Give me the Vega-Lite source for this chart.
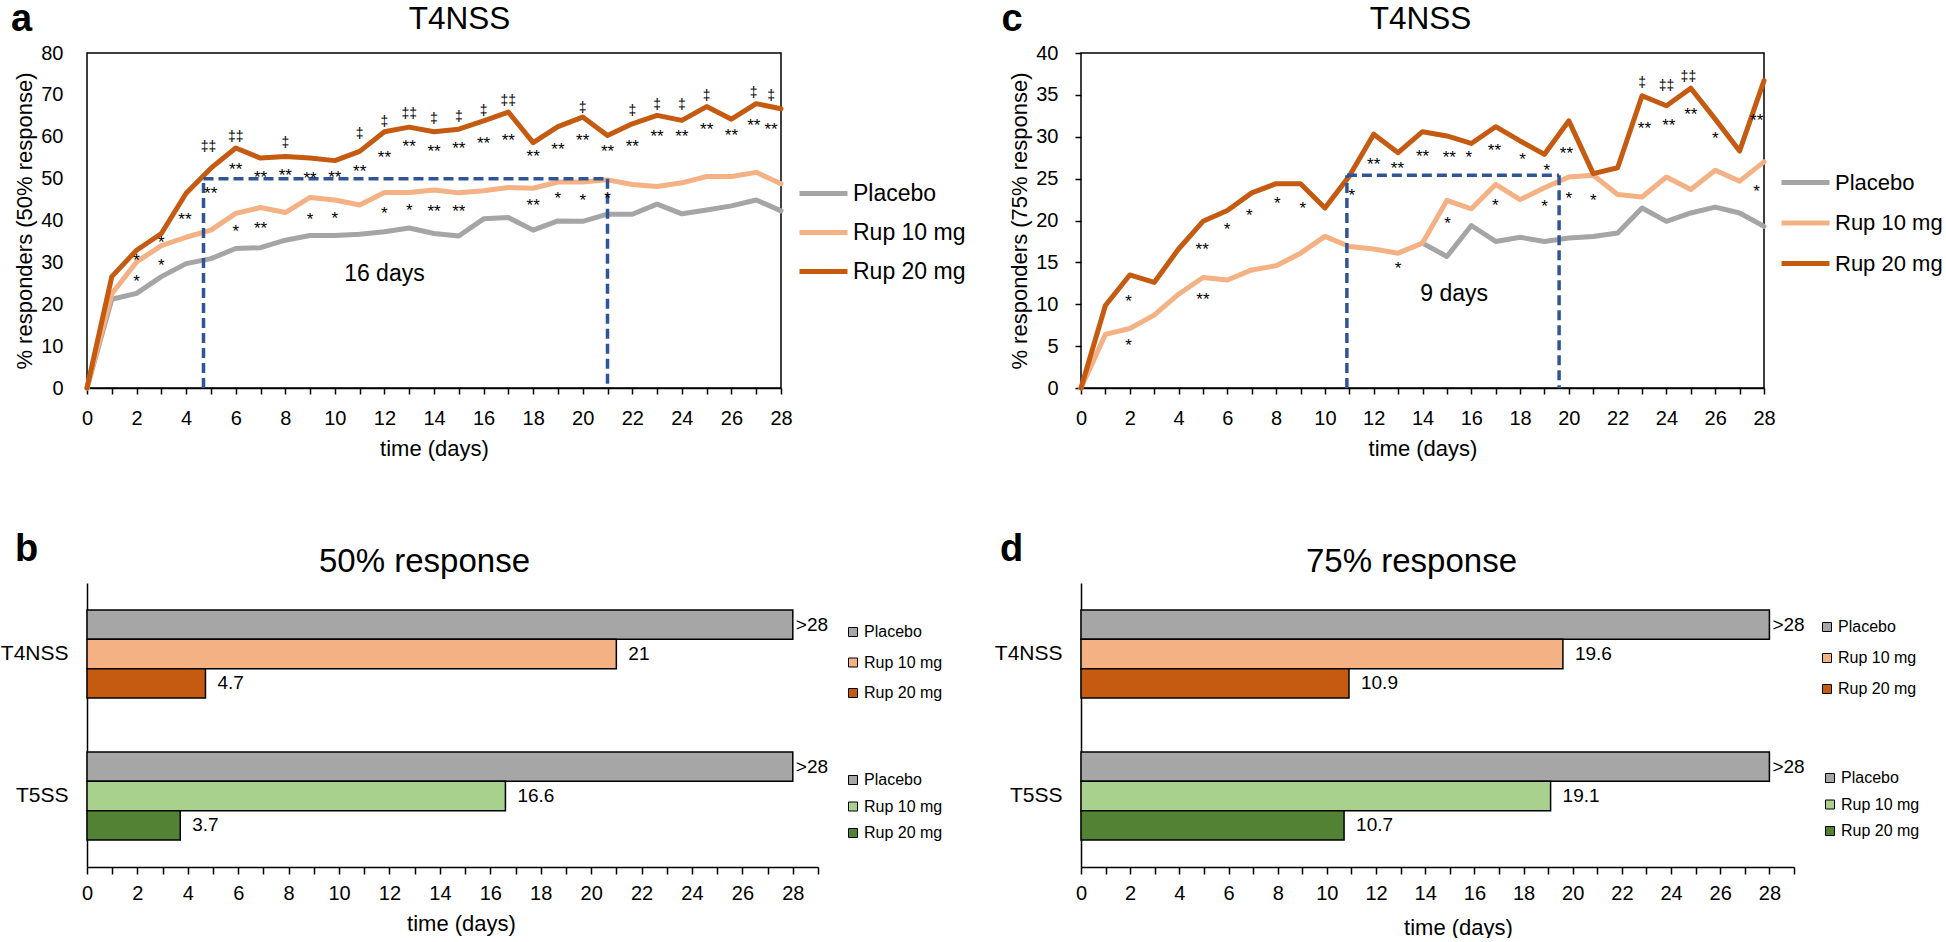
{
  "$schema": "https://vega.github.io/schema/vega-lite/v6.json",
  "padding": {"left": 0, "top": 0, "right": 0, "bottom": 0},
  "config": {
    "font": "Liberation Sans",
    "view": {"stroke": null},
    "axis": {"grid": false, "domainColor": "black", "tickColor": "black", "labelColor": "black", "titleColor": "black", "titleFontWeight": "normal", "domainWidth": 1.5, "tickWidth": 1.5, "labelFont": "Liberation Sans", "titleFont": "Liberation Sans"},
    "legend": {"labelColor": "black", "labelFont": "Liberation Sans"},
    "title": {"color": "black", "font": "Liberation Sans"}
  },
  "datasets": {
    "lines_a": [
      {"day":0,"group":"Placebo","value":0},{"day":1,"group":"Placebo","value":21.2},{"day":2,"group":"Placebo","value":22.6},{"day":3,"group":"Placebo","value":26.6},{"day":4,"group":"Placebo","value":29.7},{"day":5,"group":"Placebo","value":30.9},{"day":6,"group":"Placebo","value":33.3},{"day":7,"group":"Placebo","value":33.5},{"day":8,"group":"Placebo","value":35.3},{"day":9,"group":"Placebo","value":36.4},{"day":10,"group":"Placebo","value":36.4},{"day":11,"group":"Placebo","value":36.7},{"day":12,"group":"Placebo","value":37.3},{"day":13,"group":"Placebo","value":38.2},{"day":14,"group":"Placebo","value":36.9},{"day":15,"group":"Placebo","value":36.3},{"day":16,"group":"Placebo","value":40.4},{"day":17,"group":"Placebo","value":40.7},{"day":18,"group":"Placebo","value":37.7},{"day":19,"group":"Placebo","value":39.9},{"day":20,"group":"Placebo","value":39.8},{"day":21,"group":"Placebo","value":41.5},{"day":22,"group":"Placebo","value":41.5},{"day":23,"group":"Placebo","value":43.9},{"day":24,"group":"Placebo","value":41.6},{"day":25,"group":"Placebo","value":42.5},{"day":26,"group":"Placebo","value":43.5},{"day":27,"group":"Placebo","value":44.9},{"day":28,"group":"Placebo","value":42.3},
      {"day":0,"group":"Rup 10 mg","value":0},{"day":1,"group":"Rup 10 mg","value":22.5},{"day":2,"group":"Rup 10 mg","value":30.1},{"day":3,"group":"Rup 10 mg","value":34.0},{"day":4,"group":"Rup 10 mg","value":36.0},{"day":5,"group":"Rup 10 mg","value":37.7},{"day":6,"group":"Rup 10 mg","value":41.7},{"day":7,"group":"Rup 10 mg","value":43.1},{"day":8,"group":"Rup 10 mg","value":41.9},{"day":9,"group":"Rup 10 mg","value":45.5},{"day":10,"group":"Rup 10 mg","value":44.9},{"day":11,"group":"Rup 10 mg","value":43.7},{"day":12,"group":"Rup 10 mg","value":46.7},{"day":13,"group":"Rup 10 mg","value":46.7},{"day":14,"group":"Rup 10 mg","value":47.3},{"day":15,"group":"Rup 10 mg","value":46.6},{"day":16,"group":"Rup 10 mg","value":47.1},{"day":17,"group":"Rup 10 mg","value":47.9},{"day":18,"group":"Rup 10 mg","value":47.7},{"day":19,"group":"Rup 10 mg","value":49.2},{"day":20,"group":"Rup 10 mg","value":49.2},{"day":21,"group":"Rup 10 mg","value":49.7},{"day":22,"group":"Rup 10 mg","value":48.6},{"day":23,"group":"Rup 10 mg","value":48.1},{"day":24,"group":"Rup 10 mg","value":49.0},{"day":25,"group":"Rup 10 mg","value":50.5},{"day":26,"group":"Rup 10 mg","value":50.5},{"day":27,"group":"Rup 10 mg","value":51.5},{"day":28,"group":"Rup 10 mg","value":48.8},
      {"day":0,"group":"Rup 20 mg","value":0},{"day":1,"group":"Rup 20 mg","value":26.6},{"day":2,"group":"Rup 20 mg","value":32.9},{"day":3,"group":"Rup 20 mg","value":36.9},{"day":4,"group":"Rup 20 mg","value":46.5},{"day":5,"group":"Rup 20 mg","value":52.5},{"day":6,"group":"Rup 20 mg","value":57.3},{"day":7,"group":"Rup 20 mg","value":54.9},{"day":8,"group":"Rup 20 mg","value":55.3},{"day":9,"group":"Rup 20 mg","value":54.9},{"day":10,"group":"Rup 20 mg","value":54.3},{"day":11,"group":"Rup 20 mg","value":56.5},{"day":12,"group":"Rup 20 mg","value":61.2},{"day":13,"group":"Rup 20 mg","value":62.3},{"day":14,"group":"Rup 20 mg","value":61.2},{"day":15,"group":"Rup 20 mg","value":61.8},{"day":16,"group":"Rup 20 mg","value":63.8},{"day":17,"group":"Rup 20 mg","value":65.9},{"day":18,"group":"Rup 20 mg","value":58.6},{"day":19,"group":"Rup 20 mg","value":62.4},{"day":20,"group":"Rup 20 mg","value":64.7},{"day":21,"group":"Rup 20 mg","value":60.3},{"day":22,"group":"Rup 20 mg","value":63.1},{"day":23,"group":"Rup 20 mg","value":65.1},{"day":24,"group":"Rup 20 mg","value":63.9},{"day":25,"group":"Rup 20 mg","value":67.2},{"day":26,"group":"Rup 20 mg","value":64.2},{"day":27,"group":"Rup 20 mg","value":67.9},{"day":28,"group":"Rup 20 mg","value":66.7}
    ],
    "lines_c": [
      {"day":14,"group":"Placebo","value":17.3},{"day":15,"group":"Placebo","value":15.7},{"day":16,"group":"Placebo","value":19.4},{"day":17,"group":"Placebo","value":17.5},{"day":18,"group":"Placebo","value":18.0},{"day":19,"group":"Placebo","value":17.5},{"day":20,"group":"Placebo","value":17.9},{"day":21,"group":"Placebo","value":18.1},{"day":22,"group":"Placebo","value":18.5},{"day":23,"group":"Placebo","value":21.5},{"day":24,"group":"Placebo","value":19.9},{"day":25,"group":"Placebo","value":20.9},{"day":26,"group":"Placebo","value":21.6},{"day":27,"group":"Placebo","value":20.9},{"day":28,"group":"Placebo","value":19.3},
      {"day":0,"group":"Rup 10 mg","value":0},{"day":1,"group":"Rup 10 mg","value":6.4},{"day":2,"group":"Rup 10 mg","value":7.1},{"day":3,"group":"Rup 10 mg","value":8.7},{"day":4,"group":"Rup 10 mg","value":11.2},{"day":5,"group":"Rup 10 mg","value":13.2},{"day":6,"group":"Rup 10 mg","value":12.9},{"day":7,"group":"Rup 10 mg","value":14.1},{"day":8,"group":"Rup 10 mg","value":14.6},{"day":9,"group":"Rup 10 mg","value":16.1},{"day":10,"group":"Rup 10 mg","value":18.1},{"day":11,"group":"Rup 10 mg","value":16.9},{"day":12,"group":"Rup 10 mg","value":16.6},{"day":13,"group":"Rup 10 mg","value":16.1},{"day":14,"group":"Rup 10 mg","value":17.3},{"day":15,"group":"Rup 10 mg","value":22.4},{"day":16,"group":"Rup 10 mg","value":21.4},{"day":17,"group":"Rup 10 mg","value":24.3},{"day":18,"group":"Rup 10 mg","value":22.5},{"day":19,"group":"Rup 10 mg","value":23.9},{"day":20,"group":"Rup 10 mg","value":25.2},{"day":21,"group":"Rup 10 mg","value":25.4},{"day":22,"group":"Rup 10 mg","value":23.1},{"day":23,"group":"Rup 10 mg","value":22.8},{"day":24,"group":"Rup 10 mg","value":25.2},{"day":25,"group":"Rup 10 mg","value":23.7},{"day":26,"group":"Rup 10 mg","value":26.0},{"day":27,"group":"Rup 10 mg","value":24.7},{"day":28,"group":"Rup 10 mg","value":27.0},
      {"day":0,"group":"Rup 20 mg","value":0},{"day":1,"group":"Rup 20 mg","value":9.85},{"day":2,"group":"Rup 20 mg","value":13.5},{"day":3,"group":"Rup 20 mg","value":12.6},{"day":4,"group":"Rup 20 mg","value":16.6},{"day":5,"group":"Rup 20 mg","value":19.9},{"day":6,"group":"Rup 20 mg","value":21.2},{"day":7,"group":"Rup 20 mg","value":23.3},{"day":8,"group":"Rup 20 mg","value":24.4},{"day":9,"group":"Rup 20 mg","value":24.4},{"day":10,"group":"Rup 20 mg","value":21.5},{"day":11,"group":"Rup 20 mg","value":25.3},{"day":12,"group":"Rup 20 mg","value":30.3},{"day":13,"group":"Rup 20 mg","value":28.1},{"day":14,"group":"Rup 20 mg","value":30.6},{"day":15,"group":"Rup 20 mg","value":30.1},{"day":16,"group":"Rup 20 mg","value":29.2},{"day":17,"group":"Rup 20 mg","value":31.2},{"day":18,"group":"Rup 20 mg","value":29.5},{"day":19,"group":"Rup 20 mg","value":27.9},{"day":20,"group":"Rup 20 mg","value":31.9},{"day":21,"group":"Rup 20 mg","value":25.6},{"day":22,"group":"Rup 20 mg","value":26.3},{"day":23,"group":"Rup 20 mg","value":34.9},{"day":24,"group":"Rup 20 mg","value":33.7},{"day":25,"group":"Rup 20 mg","value":35.8},{"day":26,"group":"Rup 20 mg","value":32.1},{"day":27,"group":"Rup 20 mg","value":28.3},{"day":28,"group":"Rup 20 mg","value":36.7}
    ],
    "ann_a": [
      {"day":2,"value":31.3,"label":"*"},{"day":2,"value":26.2,"label":"*"},{"day":3,"value":35.5,"label":"*"},{"day":3,"value":30.0,"label":"*"},
      {"day":3.95,"value":41.1,"label":"**"},{"day":4.99,"value":47.4,"label":"**"},{"day":4.9,"value":58.5,"label":"‡‡"},
      {"day":6,"value":53.1,"label":"**"},{"day":6,"value":38.3,"label":"*"},{"day":6,"value":60.8,"label":"‡‡"},
      {"day":7,"value":51.1,"label":"**"},{"day":7,"value":38.9,"label":"**"},
      {"day":8,"value":51.6,"label":"**"},{"day":8,"value":59.4,"label":"‡"},
      {"day":9,"value":50.9,"label":"**"},{"day":9,"value":41.1,"label":"*"},
      {"day":10,"value":51.1,"label":"**"},{"day":10,"value":41.3,"label":"*"},
      {"day":11,"value":52.5,"label":"**"},{"day":11,"value":61.5,"label":"‡"},
      {"day":12,"value":55.9,"label":"**"},{"day":12,"value":42.5,"label":"*"},{"day":12,"value":64.4,"label":"‡"},
      {"day":13,"value":58.5,"label":"**"},{"day":13,"value":43.3,"label":"*"},{"day":13,"value":66.3,"label":"‡‡"},
      {"day":14,"value":57.3,"label":"**"},{"day":14,"value":43.1,"label":"**"},{"day":14,"value":65.1,"label":"‡"},
      {"day":15,"value":58.1,"label":"**"},{"day":15,"value":43.1,"label":"**"},{"day":15,"value":65.6,"label":"‡"},
      {"day":16,"value":59.3,"label":"**"},{"day":16,"value":67.2,"label":"‡"},
      {"day":17,"value":60.0,"label":"**"},{"day":17,"value":69.4,"label":"‡‡"},
      {"day":18,"value":56.1,"label":"**"},{"day":18,"value":44.5,"label":"**"},
      {"day":19,"value":57.8,"label":"**"},{"day":19,"value":46.1,"label":"*"},
      {"day":20,"value":60.0,"label":"**"},{"day":20,"value":67.9,"label":"‡"},{"day":20,"value":45.5,"label":"*"},
      {"day":21,"value":57.4,"label":"**"},{"day":21,"value":46.1,"label":"*"},
      {"day":22,"value":58.5,"label":"**"},{"day":22,"value":67.2,"label":"‡"},
      {"day":23,"value":60.8,"label":"**"},{"day":23,"value":68.6,"label":"‡"},
      {"day":24,"value":60.8,"label":"**"},{"day":24,"value":68.6,"label":"‡"},
      {"day":25,"value":62.6,"label":"**"},{"day":25,"value":70.7,"label":"‡"},
      {"day":26,"value":61.2,"label":"**"},
      {"day":26.9,"value":63.6,"label":"**"},{"day":26.9,"value":71.5,"label":"‡"},
      {"day":27.6,"value":62.6,"label":"**"},{"day":27.6,"value":70.8,"label":"‡"}
    ],
    "ann_c": [
      {"day":1.95,"value":10.7,"label":"*"},{"day":1.95,"value":5.5,"label":"*"},
      {"day":4.97,"value":17.0,"label":"**"},{"day":5.0,"value":11.0,"label":"**"},
      {"day":5.99,"value":19.4,"label":"*"},{"day":6.9,"value":21.0,"label":"*"},{"day":8.05,"value":22.5,"label":"*"},{"day":9.09,"value":21.9,"label":"*"},
      {"day":11.1,"value":23.4,"label":"*"},{"day":12.0,"value":27.1,"label":"**"},{"day":12.97,"value":26.6,"label":"**"},{"day":13.0,"value":14.7,"label":"*"},
      {"day":14.0,"value":28.1,"label":"**"},{"day":15.03,"value":20.1,"label":"*"},{"day":15.1,"value":27.9,"label":"**"},{"day":15.9,"value":27.9,"label":"*"},
      {"day":16.95,"value":28.8,"label":"**"},{"day":16.99,"value":22.2,"label":"*"},{"day":18.1,"value":27.7,"label":"*"},{"day":19.0,"value":22.1,"label":"*"},
      {"day":19.1,"value":26.4,"label":"*"},{"day":19.9,"value":28.4,"label":"**"},{"day":20.0,"value":23.1,"label":"*"},{"day":21.0,"value":22.8,"label":"*"},
      {"day":23.1,"value":31.4,"label":"**"},{"day":23.0,"value":36.9,"label":"‡"},{"day":24.1,"value":31.8,"label":"**"},{"day":24.0,"value":36.5,"label":"‡‡"},
      {"day":25.0,"value":33.1,"label":"**"},{"day":24.9,"value":37.6,"label":"‡‡"},{"day":26.0,"value":30.2,"label":"*"},{"day":27.7,"value":32.3,"label":"**"},{"day":27.7,"value":23.9,"label":"*"}
    ],
    "box_a": [
      {"day":4.7,"value":0,"day2":4.7,"value2":50},{"day":4.7,"value":50,"day2":21,"value2":50},{"day":21,"value":50,"day2":21,"value2":0}
    ],
    "box_c": [
      {"day":10.9,"value":0,"day2":10.9,"value2":25.4},{"day":10.9,"value":25.4,"day2":19.6,"value2":25.4},{"day":19.6,"value":25.4,"day2":19.6,"value2":0}
    ],
    "note_a": [{"day":12,"value":27.2,"label":"16 days"}],
    "note_c": [{"day":15.3,"value":11.2,"label":"9 days"}],
    "bars_b": [
      {"cat":"T4NSS","group":"Placebo","value":28,"label":">28"},
      {"cat":"T4NSS","group":"Rup 10 mg","value":21,"label":"21"},
      {"cat":"T4NSS","group":"Rup 20 mg","value":4.7,"label":"4.7"},
      {"cat":"T5SS","group":"Placebo","value":28,"label":">28"},
      {"cat":"T5SS","group":"Rup 10 mg","value":16.6,"label":"16.6"},
      {"cat":"T5SS","group":"Rup 20 mg","value":3.7,"label":"3.7"}
    ],
    "bars_d": [
      {"cat":"T4NSS","group":"Placebo","value":28,"label":">28"},
      {"cat":"T4NSS","group":"Rup 10 mg","value":19.6,"label":"19.6"},
      {"cat":"T4NSS","group":"Rup 20 mg","value":10.9,"label":"10.9"},
      {"cat":"T5SS","group":"Placebo","value":28,"label":">28"},
      {"cat":"T5SS","group":"Rup 10 mg","value":19.1,"label":"19.1"},
      {"cat":"T5SS","group":"Rup 20 mg","value":10.7,"label":"10.7"}
    ]
  },
  "columns": 2,
  "spacing": {"row": 195, "column": 263},
  "bounds": "flush",
  "resolve": {"scale": {"color": "independent", "yOffset": "independent"}},
  "concat": [
    {
      "width": 694, "height": 335,
      "view": {"stroke": "black", "strokeWidth": 1.5},
      "title": {"text": "a", "anchor": "start", "frame": "group", "dx": -76, "dy": 66, "offset": 0, "fontSize": 38, "fontWeight": "bold", "baseline": "alphabetic"},
      "resolve": {"axis": {"x": "independent"}},
      "layer": [
        {
          "data": {"name": "lines_a"},
          "mark": {"type": "line", "strokeWidth": 5, "strokeJoin": "round", "strokeCap": "round"},
          "encoding": {
            "x": {"field": "day", "type": "quantitative", "scale": {"domain": [0, 28], "nice": false, "zero": false},
              "axis": {"orient": "bottom", "values": [0,1,2,3,4,5,6,7,8,9,10,11,12,13,14,15,16,17,18,19,20,21,22,23,24,25,26,27,28], "labelExpr": "datum.value % 2 == 0 ? datum.label : ''", "labelOverlap": false, "labelFlush": false, "tickSize": 6, "labelFontSize": 20, "labelPadding": 24, "labelBaseline": "middle", "title": "time (days)", "titleFontSize": 22, "titleX": 347, "titleY": 60, "titleAlign": "center", "titleBaseline": "middle"}},
            "y": {"field": "value", "type": "quantitative", "scale": {"domain": [0, 80], "nice": false},
              "axis": {"values": [0,10,20,30,40,50,60,70,80], "ticks": false, "tickSize": 0, "domain": false, "labelPadding": 24, "labelFontSize": 20, "title": "% responders  (50% response)", "titleFontSize": 22, "titleX": -63, "titleY": 167.5, "titleAlign": "center", "titleBaseline": "middle", "titleAngle": -90}},
            "color": {"field": "group", "type": "nominal",
              "scale": {"domain": ["Placebo", "Rup 10 mg", "Rup 20 mg"], "range": ["#A5A5A5", "#F4B183", "#C55A11"]},
              "legend": {"orient": "none", "legendX": 710, "legendY": 114, "title": null, "symbolType": "stroke", "symbolStrokeWidth": 5, "symbolSize": 2304, "labelFontSize": 23, "labelOffset": 3, "rowPadding": 0, "padding": 0, "labelBaseline": "middle"}}
          }
        },
        {
          "data": {"name": "box_a"},
          "mark": {"type": "rule", "color": "#2F5597", "strokeWidth": 3.5, "strokeDash": [10, 5]},
          "encoding": {
            "x": {"field": "day", "type": "quantitative", "axis": null},
            "y": {"field": "value", "type": "quantitative"},
            "x2": {"field": "day2"},
            "y2": {"field": "value2"}
          }
        },
        {
          "data": {"name": "ann_a"},
          "mark": {"type": "text", "color": "black", "baseline": "middle", "dy": 4},
          "encoding": {
            "x": {"field": "day", "type": "quantitative",
              "axis": {"orient": "top", "title": "T4NSS", "labels": false, "ticks": false, "domain": false, "titleFontSize": 31.5, "titleX": 372, "titleY": -25, "titleAlign": "center", "titleBaseline": "alphabetic", "titleAngle": 0}},
            "y": {"field": "value", "type": "quantitative"},
            "text": {"field": "label"},
            "size": {"condition": {"test": "indexof(datum.label, '*') >= 0", "value": 17}, "value": 14}
          }
        },
        {
          "data": {"name": "note_a"},
          "mark": {"type": "text", "fontSize": 23, "color": "black", "baseline": "middle"},
          "encoding": {
            "x": {"field": "day", "type": "quantitative", "axis": null},
            "y": {"field": "value", "type": "quantitative"},
            "text": {"field": "label"}
          }
        }
      ]
    },
    {
      "width": 683, "height": 335,
      "view": {"stroke": "black", "strokeWidth": 1.5},
      "title": {"text": "c", "anchor": "start", "frame": "group", "dx": -79.5, "dy": 66, "offset": 0, "fontSize": 38, "fontWeight": "bold", "baseline": "alphabetic"},
      "resolve": {"axis": {"x": "independent"}},
      "layer": [
        {
          "data": {"name": "lines_c"},
          "mark": {"type": "line", "strokeWidth": 5, "strokeJoin": "round", "strokeCap": "round"},
          "encoding": {
            "x": {"field": "day", "type": "quantitative", "scale": {"domain": [0, 28], "nice": false, "zero": false},
              "axis": {"orient": "bottom", "values": [0,1,2,3,4,5,6,7,8,9,10,11,12,13,14,15,16,17,18,19,20,21,22,23,24,25,26,27,28], "labelExpr": "datum.value % 2 == 0 ? datum.label : ''", "labelOverlap": false, "labelFlush": false, "tickSize": 6, "labelFontSize": 20, "labelPadding": 24, "labelBaseline": "middle", "title": "time (days)", "titleFontSize": 22, "titleX": 341.5, "titleY": 60, "titleAlign": "center", "titleBaseline": "middle"}},
            "y": {"field": "value", "type": "quantitative", "scale": {"domain": [0, 40], "nice": false},
              "axis": {"values": [0,5,10,15,20,25,30,35,40], "tickSize": 6, "domain": false, "labelPadding": 17, "labelFontSize": 20, "title": "% responders (75% response)", "titleFontSize": 22, "titleX": -62, "titleY": 167.5, "titleAlign": "center", "titleBaseline": "middle", "titleAngle": -90}},
            "color": {"field": "group", "type": "nominal",
              "scale": {"domain": ["Placebo", "Rup 10 mg", "Rup 20 mg"], "range": ["#A5A5A5", "#F4B183", "#C55A11"]},
              "legend": {"orient": "none", "legendX": 698, "legendY": 103, "title": null, "symbolType": "stroke", "symbolStrokeWidth": 5, "symbolSize": 2304, "labelFontSize": 22, "labelOffset": 3, "rowPadding": 2.5, "padding": 0, "labelBaseline": "middle"}}
          }
        },
        {
          "data": {"name": "box_c"},
          "mark": {"type": "rule", "color": "#2F5597", "strokeWidth": 3.5, "strokeDash": [10, 5]},
          "encoding": {
            "x": {"field": "day", "type": "quantitative", "axis": null},
            "y": {"field": "value", "type": "quantitative"},
            "x2": {"field": "day2"},
            "y2": {"field": "value2"}
          }
        },
        {
          "data": {"name": "ann_c"},
          "mark": {"type": "text", "color": "black", "baseline": "middle", "dy": 4},
          "encoding": {
            "x": {"field": "day", "type": "quantitative",
              "axis": {"orient": "top", "title": "T4NSS", "labels": false, "ticks": false, "domain": false, "titleFontSize": 31.5, "titleX": 339, "titleY": -25, "titleAlign": "center", "titleBaseline": "alphabetic", "titleAngle": 0}},
            "y": {"field": "value", "type": "quantitative"},
            "text": {"field": "label"},
            "size": {"condition": {"test": "indexof(datum.label, '*') >= 0", "value": 17}, "value": 14}
          }
        },
        {
          "data": {"name": "note_c"},
          "mark": {"type": "text", "fontSize": 23, "color": "black", "baseline": "middle"},
          "encoding": {
            "x": {"field": "day", "type": "quantitative", "axis": null},
            "y": {"field": "value", "type": "quantitative"},
            "text": {"field": "label"}
          }
        }
      ]
    },
    {
      "width": 731, "height": 284,
      "title": {"text": "b", "anchor": "start", "frame": "group", "dx": -72, "dy": 54, "offset": 0, "fontSize": 38, "fontWeight": "bold", "baseline": "alphabetic"},
      "resolve": {"axis": {"x": "independent"}, "scale": {"color": "independent"}},
      "data": {"name": "bars_b"},
      "layer": [
        {
          "transform": [{"filter": "datum.cat == 'T4NSS'"}],
          "mark": {"type": "bar", "stroke": "black", "strokeWidth": 1.5},
          "encoding": {
            "x": {"field": "value", "type": "quantitative", "scale": {"domain": [0, 29], "nice": false, "zero": true},
              "axis": {"orient": "bottom", "values": [0,1,2,3,4,5,6,7,8,9,10,11,12,13,14,15,16,17,18,19,20,21,22,23,24,25,26,27,28,29], "labelExpr": "datum.value % 2 == 0 ? datum.label : ''", "labelOverlap": false, "labelFlush": false, "tickSize": 7, "labelFontSize": 20, "labelPadding": 19, "labelBaseline": "middle", "title": "time (days)", "titleFontSize": 22, "titleX": 374, "titleY": 56, "titleAlign": "center", "titleBaseline": "middle"}},
            "y": {"field": "cat", "type": "nominal", "title": null, "scale": {"domain": ["T4NSS", "T5SS"], "paddingInner": 0, "paddingOuter": 0},
              "axis": {"ticks": false, "labelPadding": 19, "labelFontSize": 21}},
            "yOffset": {"field": "group", "type": "nominal", "scale": {"domain": ["Placebo", "Rup 10 mg", "Rup 20 mg"], "paddingInner": 0, "paddingOuter": 0.92}},
            "color": {"field": "group", "type": "nominal",
              "scale": {"domain": ["Placebo", "Rup 10 mg", "Rup 20 mg"], "range": ["#A6A6A6", "#F4B183", "#C55A11"]},
              "legend": {"orient": "none", "legendX": 758, "legendY": 41, "title": null, "symbolType": "square", "symbolSize": 81, "symbolStrokeColor": "black", "symbolStrokeWidth": 1, "labelFontSize": 16, "labelOffset": 3, "rowPadding": 14.5, "padding": 0}}
          }
        },
        {
          "transform": [{"filter": "datum.cat == 'T5SS'"}],
          "mark": {"type": "bar", "stroke": "black", "strokeWidth": 1.5},
          "encoding": {
            "x": {"field": "value", "type": "quantitative", "axis": null},
            "y": {"field": "cat", "type": "nominal", "title": null},
            "yOffset": {"field": "group", "type": "nominal"},
            "color": {"field": "group", "type": "nominal",
              "scale": {"domain": ["Placebo", "Rup 10 mg", "Rup 20 mg"], "range": ["#A6A6A6", "#A9D18E", "#548235"]},
              "legend": {"orient": "none", "legendX": 758, "legendY": 189, "title": null, "symbolType": "square", "symbolSize": 81, "symbolStrokeColor": "black", "symbolStrokeWidth": 1, "labelFontSize": 16, "labelOffset": 3, "rowPadding": 10.5, "padding": 0}}
          }
        },
        {
          "transform": [{"filter": "datum.label == '>28'"}],
          "mark": {"type": "text", "align": "left", "baseline": "middle", "fontSize": 19, "dx": 3, "color": "black"},
          "encoding": {
            "x": {"field": "value", "type": "quantitative",
              "axis": {"orient": "top", "title": "50% response", "labels": false, "ticks": false, "domain": false, "titleFontSize": 33, "titleX": 337, "titleY": -12, "titleAlign": "center", "titleBaseline": "alphabetic", "titleAngle": 0}},
            "y": {"field": "cat", "type": "nominal", "title": null},
            "yOffset": {"field": "group", "type": "nominal"},
            "text": {"field": "label"}
          }
        },
        {
          "transform": [{"filter": "datum.label != '>28'"}],
          "mark": {"type": "text", "align": "left", "baseline": "middle", "fontSize": 19, "dx": 12, "color": "black"},
          "encoding": {
            "x": {"field": "value", "type": "quantitative", "axis": null},
            "y": {"field": "cat", "type": "nominal", "title": null},
            "yOffset": {"field": "group", "type": "nominal"},
            "text": {"field": "label"}
          }
        }
      ]
    },
    {
      "width": 713, "height": 284,
      "title": {"text": "d", "anchor": "start", "frame": "group", "dx": -81, "dy": 54, "offset": 0, "fontSize": 38, "fontWeight": "bold", "baseline": "alphabetic"},
      "resolve": {"axis": {"x": "independent"}, "scale": {"color": "independent"}},
      "data": {"name": "bars_d"},
      "layer": [
        {
          "transform": [{"filter": "datum.cat == 'T4NSS'"}],
          "mark": {"type": "bar", "stroke": "black", "strokeWidth": 1.5},
          "encoding": {
            "x": {"field": "value", "type": "quantitative", "scale": {"domain": [0, 29], "nice": false, "zero": true},
              "axis": {"orient": "bottom", "values": [0,1,2,3,4,5,6,7,8,9,10,11,12,13,14,15,16,17,18,19,20,21,22,23,24,25,26,27,28,29], "labelExpr": "datum.value % 2 == 0 ? datum.label : ''", "labelOverlap": false, "labelFlush": false, "tickSize": 7, "labelFontSize": 20, "labelPadding": 19, "labelBaseline": "middle", "title": "time (days)", "titleFontSize": 22, "titleX": 377, "titleY": 60, "titleAlign": "center", "titleBaseline": "middle"}},
            "y": {"field": "cat", "type": "nominal", "title": null, "scale": {"domain": ["T4NSS", "T5SS"], "paddingInner": 0, "paddingOuter": 0},
              "axis": {"ticks": false, "labelPadding": 19, "labelFontSize": 21}},
            "yOffset": {"field": "group", "type": "nominal", "scale": {"domain": ["Placebo", "Rup 10 mg", "Rup 20 mg"], "paddingInner": 0, "paddingOuter": 0.92}},
            "color": {"field": "group", "type": "nominal",
              "scale": {"domain": ["Placebo", "Rup 10 mg", "Rup 20 mg"], "range": ["#A6A6A6", "#F4B183", "#C55A11"]},
              "legend": {"orient": "none", "legendX": 738, "legendY": 36, "title": null, "symbolType": "square", "symbolSize": 81, "symbolStrokeColor": "black", "symbolStrokeWidth": 1, "labelFontSize": 16, "labelOffset": 3, "rowPadding": 15, "padding": 0}}
          }
        },
        {
          "transform": [{"filter": "datum.cat == 'T5SS'"}],
          "mark": {"type": "bar", "stroke": "black", "strokeWidth": 1.5},
          "encoding": {
            "x": {"field": "value", "type": "quantitative", "axis": null},
            "y": {"field": "cat", "type": "nominal", "title": null},
            "yOffset": {"field": "group", "type": "nominal"},
            "color": {"field": "group", "type": "nominal",
              "scale": {"domain": ["Placebo", "Rup 10 mg", "Rup 20 mg"], "range": ["#A6A6A6", "#A9D18E", "#548235"]},
              "legend": {"orient": "none", "legendX": 741, "legendY": 187, "title": null, "symbolType": "square", "symbolSize": 81, "symbolStrokeColor": "black", "symbolStrokeWidth": 1, "labelFontSize": 16, "labelOffset": 3, "rowPadding": 10.5, "padding": 0}}
          }
        },
        {
          "transform": [{"filter": "datum.label == '>28'"}],
          "mark": {"type": "text", "align": "left", "baseline": "middle", "fontSize": 19, "dx": 3, "color": "black"},
          "encoding": {
            "x": {"field": "value", "type": "quantitative",
              "axis": {"orient": "top", "title": "75% response", "labels": false, "ticks": false, "domain": false, "titleFontSize": 33, "titleX": 330, "titleY": -12, "titleAlign": "center", "titleBaseline": "alphabetic", "titleAngle": 0}},
            "y": {"field": "cat", "type": "nominal", "title": null},
            "yOffset": {"field": "group", "type": "nominal"},
            "text": {"field": "label"}
          }
        },
        {
          "transform": [{"filter": "datum.label != '>28'"}],
          "mark": {"type": "text", "align": "left", "baseline": "middle", "fontSize": 19, "dx": 12, "color": "black"},
          "encoding": {
            "x": {"field": "value", "type": "quantitative", "axis": null},
            "y": {"field": "cat", "type": "nominal", "title": null},
            "yOffset": {"field": "group", "type": "nominal"},
            "text": {"field": "label"}
          }
        }
      ]
    }
  ]
}
